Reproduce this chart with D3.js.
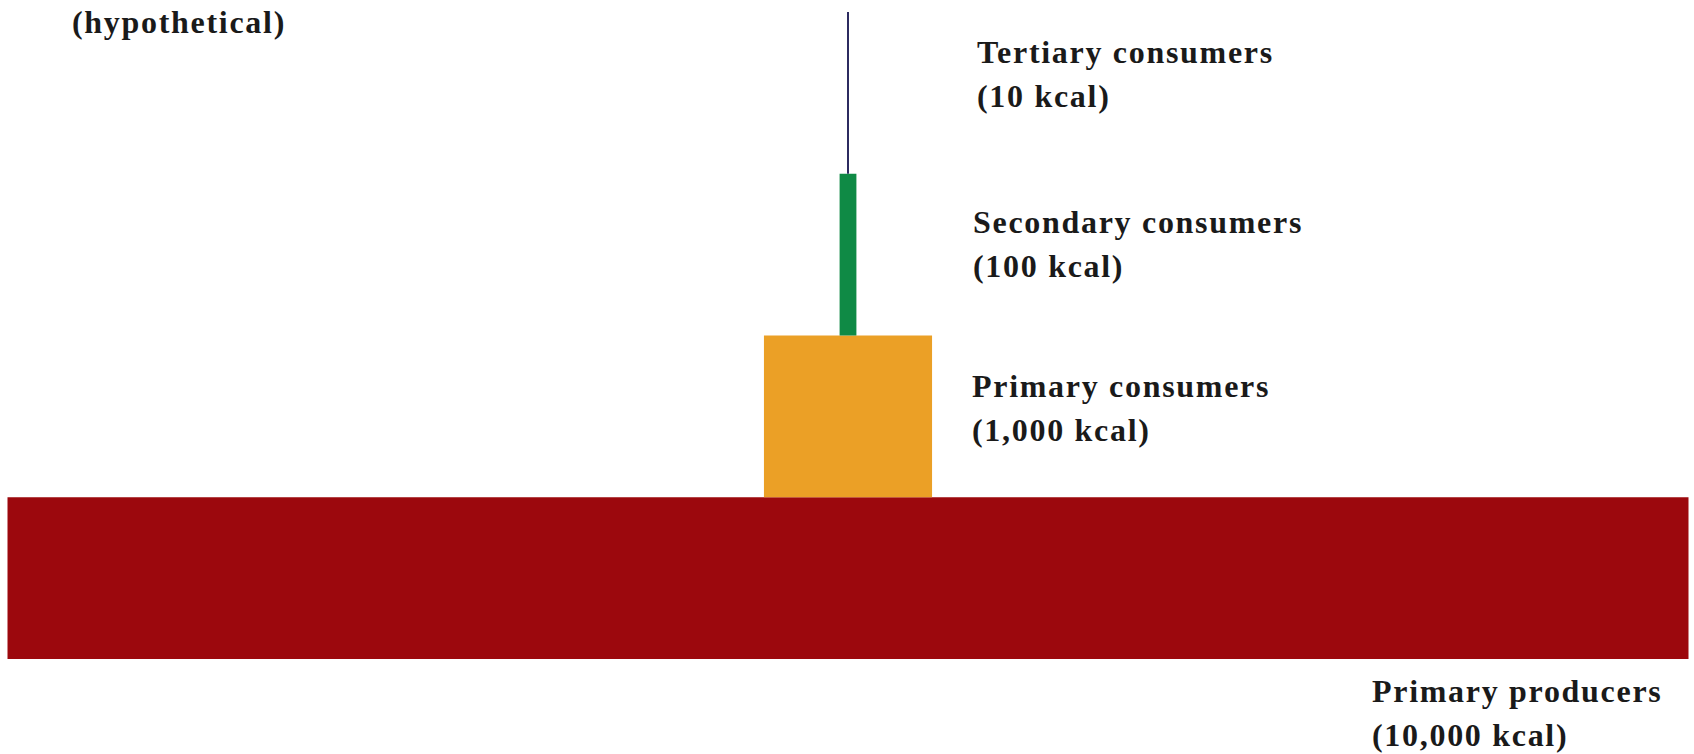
<!DOCTYPE html>
<html>
<head>
<meta charset="utf-8">
<script src="https://cdn.jsdelivr.net/npm/d3@7"></script>
<style>
  html, body { margin: 0; padding: 0; background: #fff; }
  svg { display: block; }
  text { font-family: "Liberation Serif", "Times New Roman", serif; font-weight: bold; fill: #1a1a1a; }
</style>
</head>
<body>
<svg id="chart" width="1694" height="754"></svg>
<script>
// ---- data ----
const levels = ["Primary producers", "Primary consumers", "Secondary consumers", "Tertiary consumers"];
const energy = [10000, 1000, 100, 10];
const energyLabels = ["(10,000 kcal)", "(1,000 kcal)", "(100 kcal)", "(10 kcal)"];
const colors = ["#9c080d", "#eba026", "#0f8a45", "#2c2b60"];
const noteText = "(hypothetical)";

// ---- layout ----
const centerX = 848;
const svg = d3.select("#chart");

const width = d3.scaleLinear().domain([0, 10000]).range([0, 1681]);
const y = d3.scaleBand().domain(levels).range([659, 12]).padding(0);

svg.selectAll("rect.level")
  .data(levels)
  .join("rect")
  .attr("class", "level")
  .attr("x", (d, i) => centerX - Math.max(width(energy[i]), 2) / 2)
  .attr("width", (d, i) => Math.max(width(energy[i]), 2))
  .attr("y", d => y(d))
  .attr("height", y.bandwidth())
  .attr("fill", (d, i) => colors[i]);

// label placement (x, first baseline) per level
const labelPos = [
  { x: 1372, y: 702 },
  { x: 972, y: 397 },
  { x: 973, y: 233 },
  { x: 977, y: 63 }
];
const fontSize = 32;
const spacing = 1.7;
const lineGap = 44;

const labels = svg.selectAll("g.label")
  .data(levels)
  .join("g")
  .attr("class", "label")
  .attr("transform", (d, i) => `translate(${labelPos[i].x},${labelPos[i].y})`);

labels.append("text")
  .attr("font-size", fontSize)
  .attr("letter-spacing", spacing)
  .text(d => d);
labels.append("text")
  .attr("font-size", fontSize)
  .attr("letter-spacing", spacing)
  .attr("y", lineGap)
  .text((d, i) => energyLabels[i]);

svg.append("text")
  .attr("x", 72)
  .attr("y", 33)
  .attr("font-size", fontSize)
  .attr("letter-spacing", spacing)
  .text(noteText);
</script>
</body>
</html>
